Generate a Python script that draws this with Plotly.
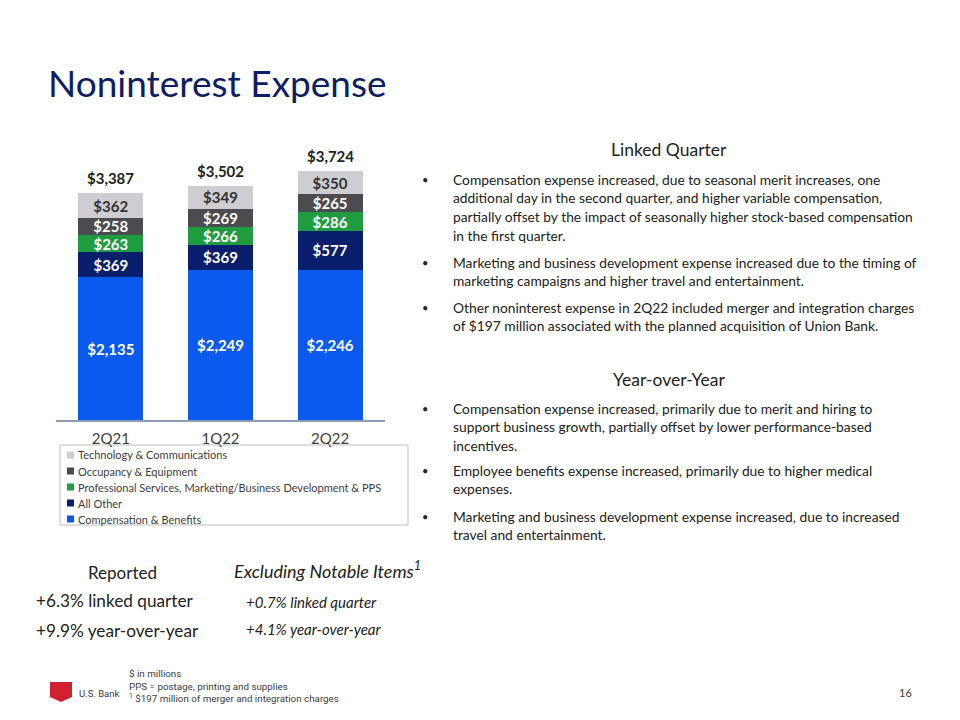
import plotly.graph_objects as go

# page is rendered inside an 8px body margin; the figure is sized to fit and
# all reference pixel positions are converted with that offset
OFF = 8
W, H = 960 - 2 * OFF, 720 - 2 * OFF

quarters = ["2Q21", "1Q22", "2Q22"]
series_names = ["Compensation & Benefits", "All Other",
                "Professional Services, Marketing/Business Development & PPS",
                "Occupancy & Equipment", "Technology & Communications"]
compensation = [2135, 2249, 2246]
all_other = [369, 369, 577]
professional = [263, 266, 286]
occupancy = [258, 269, 265]
technology = [362, 349, 350]
series_values = [compensation, all_other, professional, occupancy, technology]
series_colors = ["#0A5AF0", "#0A1E6E", "#1F9B40", "#4B4B50", "#CDCDD2"]
label_colors = ["white", "white", "white", "white", "#333333"]
totals = [sum(v) for v in zip(*series_values)]

linked_lines = [
    ["Compensation expense increased, due to seasonal merit increases, one",
     "additional day in the second quarter, and higher variable compensation,",
     "partially offset by the impact of seasonally higher stock-based compensation",
     "in the first quarter."],
    ["Marketing and business development expense increased due to the timing of",
     "marketing campaigns and higher travel and entertainment."],
    ["Other noninterest expense in 2Q22 included merger and integration charges",
     "of $197 million associated with the planned acquisition of Union Bank."],
]
yoy_lines = [
    ["Compensation expense increased, primarily due to merit and hiring to",
     "support business growth, partially offset by lower performance-based",
     "incentives."],
    ["Employee benefits expense increased, primarily due to higher medical",
     "expenses."],
    ["Marketing and business development expense increased, due to increased",
     "travel and entertainment."],
]

FONT = "Lato"


def px(x):
    return (x - OFF) / W


def py(y):
    return 1 - (y - OFF) / H


fig = go.Figure()
for name, vals, col, lc in zip(series_names, series_values, series_colors, label_colors):
    fig.add_trace(go.Bar(
        x=quarters, y=vals, name=name, marker=dict(color=col, line=dict(width=0)),
        texttemplate="$%{y:,}", textposition="inside", insidetextanchor="middle",
        constraintext="none", textangle=0,
        textfont=dict(family=FONT, size=15, color=lc, weight="bold"),
        showlegend=False,
    ))

annotations = []
shapes = []

# totals above bars
for q, t in zip(quarters, totals):
    annotations.append(dict(x=q, y=t, xref="x", yref="y", text=f"${t:,}", showarrow=False,
                            yanchor="bottom", yshift=4,
                            font=dict(family=FONT, size=15, color="#222222", weight="bold")))

# title
annotations.append(dict(x=px(46), y=py(82), xref="paper", yref="paper", text="Noninterest Expense",
                        showarrow=False, xanchor="left", yanchor="middle",
                        font=dict(family=FONT, size=37, color="#0E1E64")))

# legend box
shapes.append(dict(type="rect", xref="paper", yref="paper", x0=px(60), x1=px(408), y0=py(445), y1=py(525),
                   line=dict(color="#BFBFBF", width=1), fillcolor="rgba(0,0,0,0)"))
leg_order = list(range(len(series_names)))[::-1]
for i, idx in enumerate(leg_order):
    yc = 455 + 16 * i
    shapes.append(dict(type="rect", xref="paper", yref="paper", x0=px(67), x1=px(74),
                       y0=py(yc + 3.5), y1=py(yc - 3.5), fillcolor=series_colors[idx], line=dict(width=0)))
    annotations.append(dict(x=px(76), y=py(yc), xref="paper", yref="paper", text=series_names[idx],
                            showarrow=False, xanchor="left", yanchor="middle",
                            font=dict(family=FONT, size=11, color="#404040")))


def heading(text, x, y, size=17.5):
    annotations.append(dict(x=px(x), y=py(y), xref="paper", yref="paper", text=text, showarrow=False,
                            xanchor="center", yanchor="middle",
                            font=dict(family=FONT, size=size, color="#222222")))


def bullets(groups, starts):
    for lines, y0 in zip(groups, starts):
        annotations.append(dict(x=px(425), y=py(y0), xref="paper", yref="paper", text="•", showarrow=False,
                                xanchor="center", yanchor="middle",
                                font=dict(family=FONT, size=11, color="#222222")))
        for j, line in enumerate(lines):
            annotations.append(dict(x=px(451), y=py(y0 + 18.7 * j), xref="paper", yref="paper", text=line,
                                    showarrow=False, xanchor="left", yanchor="middle",
                                    font=dict(family=FONT, size=13.8, color="#222222")))


heading("Linked Quarter", 669, 149)
bullets(linked_lines, [179, 262, 307])
heading("Year-over-Year", 669, 379)
bullets(yoy_lines, [408, 470, 516])

# bottom stats
annotations.append(dict(x=px(122), y=py(572), xref="paper", yref="paper", text="Reported", showarrow=False,
                        xanchor="center", yanchor="middle", font=dict(family=FONT, size=17, color="#222222")))
for txt, y in [("+6.3% linked quarter", 600), ("+9.9% year-over-year", 630)]:
    annotations.append(dict(x=px(34), y=py(y), xref="paper", yref="paper", text=txt, showarrow=False,
                            xanchor="left", yanchor="middle", font=dict(family=FONT, size=17.2, color="#222222")))
annotations.append(dict(x=px(232), y=py(570), xref="paper", yref="paper",
                        text="<i>Excluding Notable Items<sup>1</sup></i>", showarrow=False,
                        xanchor="left", yanchor="middle", font=dict(family=FONT, size=18, color="#222222")))
for txt, y in [("+0.7% linked quarter", 602), ("+4.1% year-over-year", 629)]:
    annotations.append(dict(x=px(244), y=py(y), xref="paper", yref="paper", text=f"<i>{txt}</i>",
                            showarrow=False, xanchor="left", yanchor="middle",
                            font=dict(family=FONT, size=15, color="#222222")))

# footnotes
for txt, y in [("$ in millions", 673), ("PPS = postage, printing and supplies", 686),
               ("<sup>1</sup> $197 million of merger and integration charges", 698)]:
    annotations.append(dict(x=px(127), y=py(y), xref="paper", yref="paper", text=txt, showarrow=False,
                            xanchor="left", yanchor="middle", font=dict(family="Roboto", size=9.8, color="#404040")))

# logo
shapes.append(dict(type="path", xref="paper", yref="paper",
                   path=f"M {px(50)} {py(682)} L {px(72)} {py(682)} L {px(72)} {py(697)} L {px(61)} {py(702)} "
                        f"L {px(50)} {py(697)} Z",
                   fillcolor="#D2202F", line=dict(width=0)))
annotations.append(dict(x=px(77), y=py(693), xref="paper", yref="paper", text="U.S. Bank", showarrow=False,
                        xanchor="left", yanchor="middle", font=dict(family="Roboto", size=9.5, color="#404040")))
annotations.append(dict(x=px(905), y=py(692), xref="paper", yref="paper", text="16", showarrow=False,
                        xanchor="center", yanchor="middle", font=dict(family=FONT, size=11, color="#404040")))

fig.update_layout(
    width=W, height=H, margin=dict(l=0, r=0, t=0, b=0),
    paper_bgcolor="white", plot_bgcolor="white",
    barmode="stack", bargap=0.41,
    xaxis=dict(domain=[px(56), px(385)], showgrid=False, showline=True, linecolor="#8C9BB5", linewidth=1.5,
               ticks="", ticklabelstandoff=4, tickfont=dict(family=FONT, size=15, color="#404040"),
               fixedrange=True),
    yaxis=dict(domain=[py(420), py(140)], range=[0, 4185], visible=False, showgrid=False, fixedrange=True),
    annotations=annotations, shapes=shapes,
)

fig.write_html("out.html")
